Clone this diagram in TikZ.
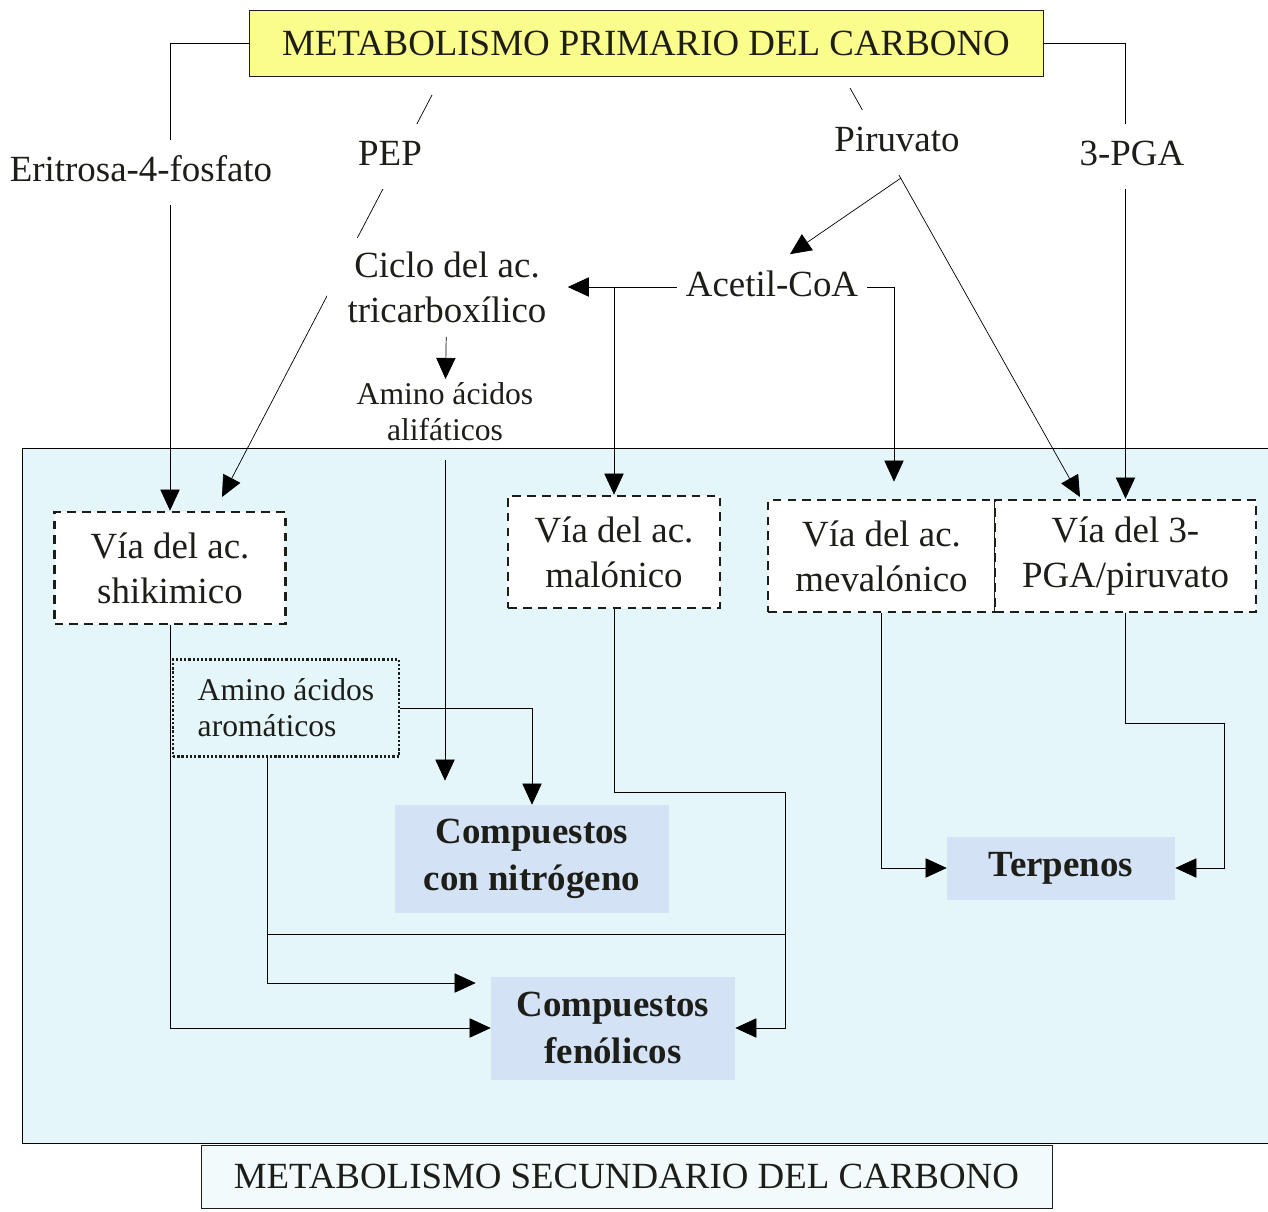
\documentclass[tikz,border=0pt]{standalone}
\usepackage{fontspec}
\setmainfont{Liberation Serif}
\usetikzlibrary{arrows.meta,positioning}
\definecolor{primyellow}{RGB}{250,252,140}
\definecolor{secblue}{RGB}{228,246,250}
\definecolor{compblue}{RGB}{212,226,245}
\definecolor{inkdark}{RGB}{30,30,25}
\definecolor{labelwhite}{RGB}{242,250,252}
\pgfdeclarelayer{back}
\pgfdeclarelayer{lines}
\pgfsetlayers{back,lines,main}

\begin{document}
\begin{tikzpicture}[x=0.02cm,y=-0.02cm,line width=1.3pt,color=inkdark,
  arr/.style={-{Triangle[length=12pt,width=11pt]}},
  primbox/.style={draw,fill=primyellow,minimum width=15.88cm,minimum height=1.32cm,
                  font=\fontsize{21}{25.5}\selectfont},
  secbox/.style={draw,fill=labelwhite,minimum width=17.02cm,minimum height=1.26cm,
                 font=\fontsize{21}{25.5}\selectfont},
  lbl/.style={fill=white,font=\fontsize{21}{25.5}\selectfont,
              text height=16pt,text depth=5pt,inner xsep=5pt,inner ysep=8pt},
  cycbox/.style={fill=white,align=center,font=\fontsize{21}{25.5}\selectfont,
                 inner xsep=12pt,inner ysep=8pt},
  smalltxt/.style={align=center,font=\fontsize{18}{20.5}\selectfont,inner sep=2pt},
  via/.style={draw,dash pattern=on 5pt off 3.5pt,line width=1.6pt,fill=white,
              minimum height=2.24cm,align=center,font=\fontsize{21}{25.5}\selectfont},
  arombox/.style={draw,dash pattern=on 1.3pt off 1.1pt,line width=1.3pt,fill=secblue,
                  minimum width=4.52cm,minimum height=1.94cm,align=left,
                  font=\fontsize{18}{20.5}\selectfont},
  comp/.style={fill=compblue,align=center,font=\fontsize{21}{26.5}\selectfont\bfseries}
]
  \useasboundingbox (0,0) rectangle (1268,1211);

  % secondary metabolism area
  \begin{pgfonlayer}{back}
    \draw[fill=secblue] (22,448) rectangle (1300,1143);
  \end{pgfonlayer}

  % primary metabolism
  \node[primbox] (prim) at (646,43) {METABOLISMO PRIMARIO DEL CARBONO};
  \node[lbl] (eri)  at (141,172)  {Eritrosa-4-fosfato};
  \node[lbl] (pep)  at (390,156)  {PEP};
  \node[lbl] (piru) at (897,142)  {Piruvato};
  \node[lbl] (pga)  at (1132,156) {3-PGA};
  \node[cycbox] (ciclo) at (447,287) {Ciclo del ac.\\tricarboxílico};
  \node[lbl] (acetil) at (772,287) {Acetil-CoA};
  \node[smalltxt] (alif) at (445,412) {Amino ácidos\\alifáticos};

  % pathways
  \node[via,minimum width=4.62cm] (shik) at (170,568)    {Vía del ac.\\shikimico};
  \node[via,minimum width=4.24cm] (mal)  at (614,552)    {Vía del ac.\\malónico};
  \node[via,minimum width=4.54cm] (mev)  at (881.5,556)  {Vía del ac.\\mevalónico};
  \node[via,minimum width=5.22cm] (pgav) at (1125.5,556) {Vía del 3-\\PGA/piruvato};
  \node[arombox] (arom) at (286,708) {Amino ácidos\\aromáticos};

  % products
  \node[comp,minimum width=5.5cm,minimum height=2.16cm]  (nitro) at (532,859)  {Compuestos\\con nitrógeno};
  \node[comp,minimum width=4.88cm,minimum height=2.06cm] (fenol) at (613,1028) {Compuestos\\fenólicos};
  \node[comp,minimum width=4.56cm,minimum height=1.26cm] (terp)  at (1061,868) {Terpenos};
  \node[secbox] (sec) at (626.5,1176.5) {METABOLISMO SECUNDARIO DEL CARBONO};

  \coordinate (pepTop)   at (432,95);
  \coordinate (pepEnd)   at (222,497);
  \coordinate (piruTop)  at (850,88);
  \coordinate (piruFork) at (901,178);
  \coordinate (pgaEnd)   at (1080,497);
  \coordinate (malTurn)  at (785,792);
  \coordinate (pgaTurn)  at (1224,723);
  \coordinate (junL)     at (267,934);
  \coordinate (junR)     at (785,934);

  \begin{pgfonlayer}{lines}
    \draw[arr] (prim.west) -| (shik.north);
    \draw[arr] (prim.east) -| (pgav.north);
    \draw[arr] (pepTop) -- (pepEnd);
    \draw[arr] (piruTop) -- (pgaEnd);
    \draw[arr] (piruFork) -- ([xshift=0.36cm]acetil.north);
    \draw[arr] (acetil) -- (ciclo);
    \draw[arr] (mal.north |- acetil) -- (mal.north);
    \draw[arr,shorten >=0.34cm] (acetil.east) -| ([xshift=0.25cm]mev.north);
    \draw[arr] (ciclo) -- (alif);
    \draw[arr,shorten <=0.3cm,shorten >=0.48cm] (alif) -- (alif |- nitro.north);
    \draw[arr] (arom.east) -| (nitro.north);
    \draw[arr] (shik) |- (fenol.west);
    \draw[arr,shorten >=0.3cm] ([xshift=-0.38cm]arom.south) |- ([yshift=0.9cm]fenol.west);
    \draw (junL) -- (junR);
    \draw[arr] (mal) |- (malTurn) |- (fenol.east);
    \draw[arr] (mev) |- (terp.west);
    \draw[arr] (pgav) |- (pgaTurn) |- (terp.east);
  \end{pgfonlayer}
\end{tikzpicture}
\end{document}
